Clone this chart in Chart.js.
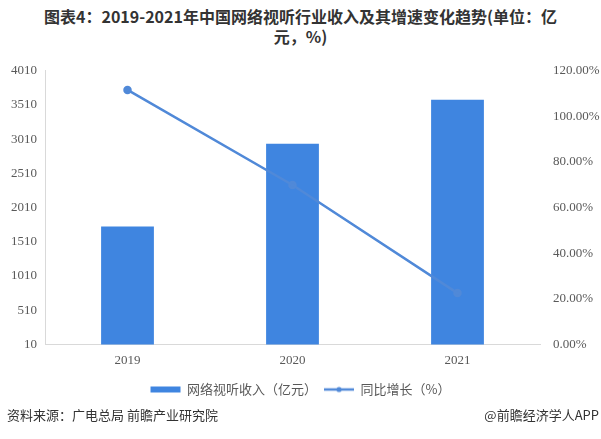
<!DOCTYPE html>
<html><head><meta charset="utf-8">
<script src="https://cdn.jsdelivr.net/npm/chart.js@4"></script>
<style>
html,body{margin:0;padding:0;background:#fff;}
body{width:601px;height:439px;position:relative;overflow:hidden;font-family:"Noto Sans CJK SC",sans-serif;}
#title{position:absolute;left:0;top:6px;width:601px;text-align:center;font-weight:bold;font-size:16px;line-height:20px;color:#333;}
#wrap{position:absolute;left:0;top:50px;width:601px;height:356px;}
#src{position:absolute;left:7px;top:405px;font-size:13px;color:#333;}
#brand{position:absolute;right:2px;top:405px;font-size:13px;color:#333;}
</style></head><body>
<div id="title">图表4：2019-2021年中国网络视听行业收入及其增速变化趋势(单位：亿<br>元，%)</div>
<div id="wrap"><canvas id="c" width="601" height="356"></canvas></div>
<div id="src">资料来源：广电总局 前瞻产业研究院</div>
<div id="brand">@前瞻经济学人APP</div>
<script>
const categories = ["2019", "2020", "2021"];
const revenue = [1734, 2942, 3585];
const growth = [1.116, 0.699, 0.225];
const leftTicks = [10, 510, 1010, 1510, 2010, 2510, 3010, 3510, 4010];
const rightTicks = [0, 0.2, 0.4, 0.6, 0.8, 1.0, 1.2];
const seriesNames = ["网络视听收入（亿元）", "同比增长（%）"];

const barColor = "#3f85e0";
const lineColor = "#5089d8";

// legend icon for the line series
const lineIcon = document.createElement("canvas");
lineIcon.width = 30; lineIcon.height = 8;
(function(){
  const g = lineIcon.getContext("2d");
  g.strokeStyle = lineColor; g.lineWidth = 2.5;
  g.beginPath(); g.moveTo(0,4); g.lineTo(30,4); g.stroke();
  g.fillStyle = lineColor; g.beginPath(); g.arc(15,4,2.6,0,Math.PI*2); g.fill();
})();

const tickFont = {family: "'Liberation Serif','DejaVu Serif',serif", size: 13};

new Chart(document.getElementById("c"), {
  data: {
    labels: categories,
    datasets: [
      {type: "line", label: seriesNames[1], data: growth, yAxisID: "y1",
       borderColor: lineColor, backgroundColor: lineColor, borderWidth: 2.5,
       pointRadius: 3, pointHoverRadius: 3, pointBackgroundColor: lineColor, tension: 0, order: 0},
      {type: "bar", label: seriesNames[0], data: revenue, yAxisID: "y",
       backgroundColor: barColor, borderWidth: 0, barPercentage: 0.4, categoryPercentage: 0.8, order: 1}
    ]
  },
  options: {
    responsive: false, animation: false,
    layout: {padding: {top: 10, bottom: 0, left: 0, right: 0}},
    plugins: {
      tooltip: {enabled: false},
      legend: {
        position: "bottom", reverse: true,
        labels: {
          usePointStyle: true, pointStyleWidth: 30, boxHeight: 6, padding: 7,
          color: "#595959", font: {family: "'Noto Sans CJK SC',sans-serif", size: 13},
          generateLabels(chart) {
            const items = Chart.defaults.plugins.legend.labels.generateLabels(chart);
            items.forEach(it => {
              if (it.datasetIndex === 1) { it.pointStyle = "rect"; it.lineWidth = 0; it.fillStyle = barColor; }
              else { it.pointStyle = lineIcon; }
            });
            return items;
          }
        }
      }
    },
    scales: {
      x: {
        grid: {display: false, drawTicks: false},
        border: {display: true, color: "#d9d9d9"},
        ticks: {color: "#595959", font: tickFont, padding: 8}
      },
      y: {
        position: "left", min: 10, max: 4010,
        afterBuildTicks(s) { s.ticks = leftTicks.map(v => ({value: v})); },
        afterFit(s) { s.width = 45; },
        grid: {display: false, drawTicks: false},
        border: {display: true, color: "#d9d9d9"},
        ticks: {color: "#595959", font: tickFont, padding: 8, callback: v => String(v)}
      },
      y1: {
        position: "right", min: 0, max: 1.2,
        afterBuildTicks(s) { s.ticks = rightTicks.map(v => ({value: v})); },
        afterFit(s) { s.width = 61; },
        grid: {display: false, drawTicks: false},
        border: {display: false},
        ticks: {color: "#595959", font: tickFont, padding: 13,
          callback: v => (v * 100).toFixed(2) + "%"}
      }
    }
  }
});
</script>
</body></html>
